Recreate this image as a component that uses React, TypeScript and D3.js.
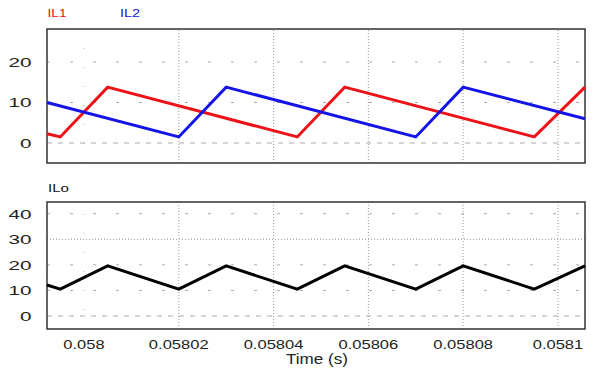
import React from "react";
import * as d3 from "d3";

// Inductor currents IL1 / IL2 (A) versus time (s)
const il1Time = [0.0579922, 0.057995, 0.058005, 0.058045, 0.058055, 0.058095, 0.0581057];
const il1Value = [2.3, 1.5, 13.8, 1.5, 13.8, 1.5, 13.8];
const il2Time = [0.0579922, 0.05802, 0.05803, 0.05807, 0.05808, 0.0581057];
const il2Value = [10.0, 1.5, 13.8, 1.5, 13.8, 6.0];

// Output current ILo (A) versus time (s)
const iloTime = [0.0579922, 0.057995, 0.058005, 0.05802, 0.05803, 0.058045, 0.058055, 0.05807, 0.05808, 0.058095, 0.0581057];
const iloValue = [12.1, 10.5, 19.6, 10.5, 19.6, 10.5, 19.6, 10.5, 19.6, 10.5, 19.6];

const xTicks = [0.058, 0.05802, 0.05804, 0.05806, 0.05808, 0.0581];
const xTickLabels = ["0.058", "0.05802", "0.05804", "0.05806", "0.05808", "0.0581"];
const topTicks = [0, 10, 20];
const bottomTicks = [0, 10, 20, 30, 40];

const W = 600;
const H = 370;
const left = 47;
const right = 585;
const font = "'Liberation Sans', Arial, sans-serif";

type Pt = [number, number];
const zip = (t: number[], v: number[]): Pt[] => t.map((d, i) => [d, v[i]]);

// widened numeric labels: digits ~9.3px, period ~4px
const numWidth = (s: string) =>
  s.split("").reduce((w, c) => w + (c === "." ? 4 : 9.3), 0);

export default function App() {
  const x = d3.scaleLinear().domain([0.0579922, 0.0581057]).range([left, right]);
  const yTop = d3.scaleLinear().domain([-4.94, 28.15]).range([163, 29]);
  const yBot = d3.scaleLinear().domain([-5.08, 44.57]).range([329, 202]);

  const lineTop = d3.line<Pt>().x((d) => x(d[0])).y((d) => yTop(d[1]));
  const lineBot = d3.line<Pt>().x((d) => x(d[0])).y((d) => yBot(d[1]));

  const panel = (
    y: d3.ScaleLinear<number, number>,
    ticks: number[],
    key: string,
    strongTick: number | null
  ) => {
    const [y0, y1] = y.range();
    return (
      <g key={key}>
        {ticks.map((t) => (
          <line
            key={"h" + t}
            x1={left}
            x2={right}
            y1={y(t)}
            y2={y(t)}
            stroke="#888"
            strokeWidth={1}
            strokeDasharray={t === strongTick ? "1,2" : t === 0 ? "5,6" : "3,20"}
            opacity={t === strongTick ? 0.9 : 0.7}
          />
        ))}
        {xTicks.map((t, i) => (
          <line
            key={"v" + t}
            x1={x(t)}
            x2={x(t)}
            y1={y0}
            y2={y1}
            stroke="#888"
            strokeWidth={1}
            strokeDasharray={i === 0 ? "1,18" : "1,2"}
            opacity={i === 0 ? 0.6 : 0.8}
          />
        ))}
        <rect
          x={left}
          y={y1}
          width={right - left}
          height={y0 - y1}
          fill="none"
          stroke="#333"
          strokeWidth={1.5}
        />
        {ticks.map((t) => {
          const s = String(t);
          return (
            <text
              key={"l" + t}
              x={31.5 - s.length * 11.5}
              y={y(t)}
              dy="0.36em"
              fontFamily={font}
              fontSize={13.5}
              fill="#222"
              textLength={s.length * 11.5}
              lengthAdjust="spacingAndGlyphs"
            >
              {s}
            </text>
          );
        })}
      </g>
    );
  };

  return (
    <svg
      width={W}
      height={H}
      style={{ position: "absolute", left: 0, top: 0, background: "#fff" }}
    >
      {panel(yTop, topTicks, "top", null)}
      {panel(yBot, bottomTicks, "bot", 30)}

      <path d={lineTop(zip(il1Time, il1Value)) ?? ""} fill="none" stroke="#ec1218" strokeWidth={3} />
      <path d={lineTop(zip(il2Time, il2Value)) ?? ""} fill="none" stroke="#1414e6" strokeWidth={3} />
      <path d={lineBot(zip(iloTime, iloValue)) ?? ""} fill="none" stroke="#000" strokeWidth={3} />

      <text x={47.5} y={17.3} fontFamily={font} fontSize={11.5} fill="#ec1218" textLength={19} lengthAdjust="spacingAndGlyphs">IL1</text>
      <text x={120} y={17.3} fontFamily={font} fontSize={11.5} fill="#1414e6" textLength={20} lengthAdjust="spacingAndGlyphs">IL2</text>
      <text x={48} y={191.5} fontFamily={font} fontSize={11.5} fill="#111" textLength={21} lengthAdjust="spacingAndGlyphs">ILo</text>

      {xTicks.map((t, i) => {
        const s = xTickLabels[i];
        const w = numWidth(s);
        return (
          <text
            key={"xl" + t}
            x={x(t) - w / 2}
            y={349}
            fontFamily={font}
            fontSize={13.5}
            fill="#222"
            textLength={w}
            lengthAdjust="spacingAndGlyphs"
          >
            {s}
          </text>
        );
      })}
      <text x={286} y={364} fontFamily={font} fontSize={14} fill="#222" textLength={62} lengthAdjust="spacingAndGlyphs">
        Time (s)
      </text>
    </svg>
  );
}
